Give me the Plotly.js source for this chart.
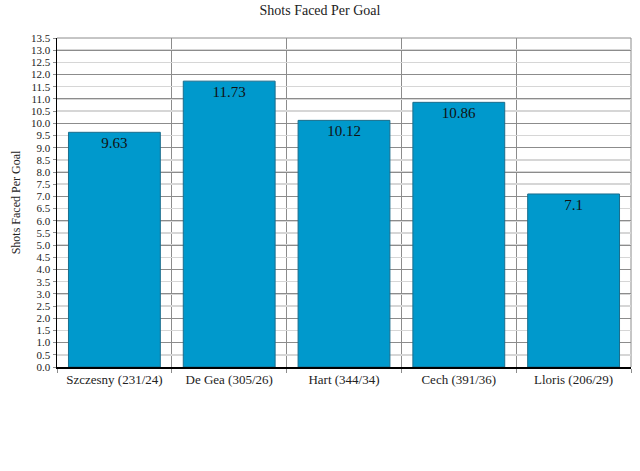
<!DOCTYPE html>
<html>
<head>
<meta charset="utf-8">
<script src="https://cdn.plot.ly/plotly-3.0.1.min.js"></script>
<style>
  html, body { margin: 0; padding: 0; background: #fff; }
  #chart { width: 640px; height: 471px; }
</style>
</head>
<body>
<div id="chart"></div>
<script>
var keepers = ['Szczesny (231/24)', 'De Gea (305/26)', 'Hart (344/34)', 'Cech (391/36)', 'Lloris (206/29)'];
var shotsPerGoal = [9.63, 11.73, 10.12, 10.86, 7.1];
var barLabels = ['9.63', '11.73', '10.12', '10.86', '7.1'];

var serif = 'Liberation Serif, Times New Roman, serif';

var bars = {
    x: keepers,
    y: shotsPerGoal,
    type: 'bar',
    text: barLabels,
    textposition: 'inside',
    insidetextanchor: 'end',
    textangle: 0,
    textfont: { family: serif, size: 15, color: '#111' },
    marker: { color: '#0099cc', line: { color: '#1b6d8c', width: 1 } },
    width: 0.8,
    hoverinfo: 'none'
};

// integer gridlines are darker, half steps lighter
var layout = {
    width: 640,
    height: 471,
    margin: { l: 57, r: 9, t: 38, b: 104 },
    paper_bgcolor: '#fff',
    plot_bgcolor: '#fff',
    showlegend: false,
    font: { family: serif },
    title: {
        text: 'Shots Faced Per Goal',
        font: { family: serif, size: 14, color: '#222' },
        x: 0.5, xanchor: 'center',
        y: 0.99, yanchor: 'top'
    },
    xaxis: {
        tickson: 'boundaries',
        showgrid: true,
        gridcolor: '#8c8c8c',
        gridwidth: 1,
        ticks: 'outside',
        ticklen: 4,
        tickcolor: '#8c8c8c',
        showline: true,
        linecolor: '#000',
        linewidth: 1.5,
        tickfont: { family: serif, size: 13, color: '#222' },
        fixedrange: true
    },
    yaxis: {
        range: [0, 13.5],
        dtick: 0.5,
        tickformat: '.1f',
        showgrid: true,
        gridcolor: '#d6d6d6',
        gridwidth: 1.5,
        zeroline: false,
        ticks: 'outside',
        ticklen: 3,
        tickcolor: '#8c8c8c',
        showline: true,
        linecolor: '#000',
        linewidth: 1.5,
        tickfont: { family: serif, size: 11, color: '#222' },
        title: {
            text: 'Shots Faced Per Goal',
            font: { family: serif, size: 12, color: '#222' },
            standoff: 8
        },
        fixedrange: true
    },
    yaxis2: {
        overlaying: 'y',
        range: [0, 13.5],
        dtick: 1,
        showgrid: true,
        gridcolor: '#8c8c8c',
        gridwidth: 1,
        zeroline: false,
        showticklabels: false,
        ticks: '',
        fixedrange: true
    },
    shapes: [
        { type: 'line', xref: 'paper', yref: 'paper', x0: 0, x1: 1, y0: 1, y1: 1,
          line: { color: '#8c8c8c', width: 1 }, layer: 'below' },
        { type: 'line', xref: 'paper', yref: 'paper', x0: 1, x1: 1, y0: 0, y1: 1,
          line: { color: '#8c8c8c', width: 1 }, layer: 'below' }
    ]
};

var gridHelper = { x: [keepers[0]], y: [0], yaxis: 'y2', type: 'scatter', mode: 'markers',
    marker: { opacity: 0 }, hoverinfo: 'none' };

Plotly.newPlot('chart', [bars, gridHelper], layout, { staticPlot: true });
</script>
</body>
</html>
